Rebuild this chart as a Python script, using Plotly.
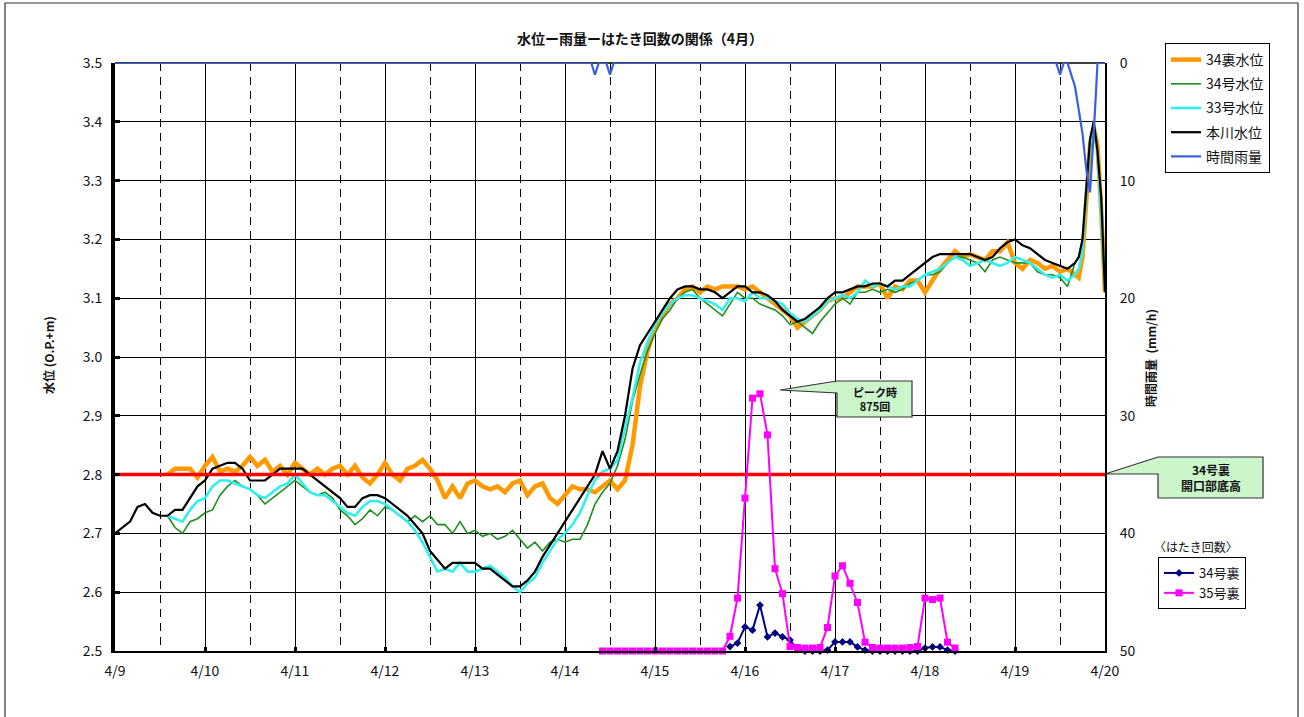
import numpy as np
import plotly.graph_objects as go

# ---- time base: hours counted from 4/9 00:00 ----
day_labels = ["4/9", "4/10", "4/11", "4/12", "4/13", "4/14",
              "4/15", "4/16", "4/17", "4/18", "4/19", "4/20"]

# water levels are 2-hourly, hourly over the last day
t_honkawa = np.r_[np.arange(0, 256, 2), np.arange(256, 265, 1)]
t_gauge = np.r_[np.arange(14, 256, 2), np.arange(256, 265, 1)]

# 本川水位 (O.P.+m)
honkawa = [
    2.70, 2.71, 2.72, 2.745, 2.75, 2.735, 2.73, 2.73, 2.74, 2.74,
    2.76, 2.78, 2.79, 2.81, 2.815, 2.82, 2.82, 2.81, 2.79, 2.79,
    2.79, 2.80, 2.81, 2.81, 2.81, 2.81, 2.80, 2.79, 2.78, 2.77,
    2.76, 2.745, 2.745, 2.76, 2.765, 2.765, 2.76, 2.75, 2.74, 2.73,
    2.715, 2.70, 2.67, 2.655, 2.64, 2.65, 2.65, 2.65, 2.65, 2.64,
    2.64, 2.63, 2.62, 2.61, 2.61, 2.62, 2.635, 2.66, 2.68, 2.70,
    2.72, 2.74, 2.76, 2.78, 2.80, 2.84, 2.81, 2.84, 2.90, 2.98,
    3.02, 3.04, 3.06, 3.08, 3.10, 3.115, 3.12, 3.12, 3.115, 3.115,
    3.11, 3.10, 3.11, 3.12, 3.12, 3.11, 3.11, 3.105, 3.095, 3.08,
    3.07, 3.06, 3.065, 3.075, 3.085, 3.10, 3.11, 3.11, 3.115, 3.12,
    3.12, 3.125, 3.125, 3.12, 3.13, 3.13, 3.14, 3.15, 3.16, 3.17,
    3.175, 3.175, 3.175, 3.175, 3.175, 3.17, 3.165, 3.17, 3.185, 3.195,
    3.20, 3.19, 3.185, 3.175, 3.165, 3.16, 3.155, 3.15,
    3.16, 3.17, 3.20, 3.29, 3.37, 3.40, 3.35, 3.27, 3.11,
]

# 34裏水位
ura34 = [
    2.80, 2.81, 2.81, 2.81, 2.795, 2.815, 2.83, 2.805, 2.81, 2.805,
    2.815, 2.83, 2.815, 2.825, 2.805, 2.815, 2.80, 2.82, 2.81, 2.80,
    2.81, 2.80, 2.81, 2.815, 2.80, 2.815, 2.795, 2.785, 2.80, 2.82,
    2.80, 2.79, 2.81, 2.815, 2.825, 2.81, 2.79, 2.76, 2.78, 2.76,
    2.785, 2.79, 2.78, 2.775, 2.78, 2.77, 2.785, 2.79, 2.765, 2.78,
    2.785, 2.76, 2.75, 2.765, 2.78, 2.775, 2.775, 2.77, 2.78, 2.79,
    2.775, 2.79, 2.85, 2.95, 3.01, 3.05, 3.07, 3.09, 3.10, 3.115,
    3.12, 3.11, 3.12, 3.115, 3.12, 3.12, 3.12, 3.115, 3.12, 3.11,
    3.10, 3.09, 3.08, 3.07, 3.05, 3.06, 3.07, 3.08, 3.095, 3.10,
    3.10, 3.11, 3.12, 3.12, 3.12, 3.125, 3.10, 3.12, 3.115, 3.13,
    3.13, 3.11, 3.13, 3.15, 3.165, 3.18, 3.17, 3.175, 3.17, 3.165,
    3.18, 3.18, 3.195, 3.16, 3.15, 3.165, 3.16, 3.15, 3.155, 3.145,
    3.15,
    3.14, 3.135, 3.17, 3.28, 3.36, 3.39, 3.36, 3.25, 3.11,
]

# 34号水位
go34 = [
    2.73, 2.71, 2.70, 2.72, 2.725, 2.735, 2.74, 2.765, 2.78, 2.79,
    2.78, 2.775, 2.765, 2.75, 2.76, 2.77, 2.78, 2.79, 2.78, 2.77,
    2.765, 2.77, 2.76, 2.74, 2.73, 2.715, 2.725, 2.74, 2.73, 2.745,
    2.74, 2.73, 2.72, 2.73, 2.72, 2.73, 2.715, 2.715, 2.70, 2.72,
    2.70, 2.705, 2.695, 2.70, 2.69, 2.695, 2.705, 2.69, 2.675, 2.685,
    2.67, 2.685, 2.69, 2.685, 2.69, 2.69, 2.715, 2.75, 2.77, 2.785,
    2.815, 2.86, 2.925, 2.97, 3.01, 3.04, 3.065, 3.08, 3.10, 3.11,
    3.115, 3.10, 3.09, 3.08, 3.07, 3.09, 3.11, 3.10, 3.10, 3.09,
    3.085, 3.08, 3.07, 3.055, 3.06, 3.05, 3.04, 3.06, 3.075, 3.09,
    3.10, 3.09, 3.11, 3.11, 3.115, 3.11, 3.115, 3.11, 3.115, 3.125,
    3.13, 3.14, 3.14, 3.145, 3.16, 3.17, 3.17, 3.165, 3.16, 3.145,
    3.165, 3.17, 3.165, 3.16, 3.16, 3.16, 3.145, 3.14, 3.14, 3.135,
    3.12,
    3.16, 3.17, 3.20, 3.27, 3.35, 3.40, 3.35, 3.24, 3.12,
]

# 33号水位
go33 = [
    2.73, 2.725, 2.72, 2.74, 2.755, 2.76, 2.78, 2.79, 2.79, 2.785,
    2.78, 2.775, 2.765, 2.76, 2.77, 2.78, 2.785, 2.80, 2.785, 2.77,
    2.765, 2.765, 2.755, 2.745, 2.735, 2.73, 2.745, 2.755, 2.755, 2.75,
    2.74, 2.73, 2.72, 2.705, 2.685, 2.66, 2.635, 2.64, 2.635, 2.65,
    2.635, 2.635, 2.64, 2.645, 2.635, 2.625, 2.61, 2.60, 2.615, 2.625,
    2.65, 2.67, 2.69, 2.70, 2.715, 2.735, 2.765, 2.79, 2.805, 2.81,
    2.825, 2.88, 2.93, 2.99, 3.025, 3.055, 3.075, 3.09, 3.10, 3.105,
    3.105, 3.10, 3.095, 3.09, 3.08, 3.10, 3.10, 3.095, 3.11, 3.10,
    3.10, 3.095, 3.09, 3.075, 3.065, 3.06, 3.07, 3.08, 3.095, 3.10,
    3.105, 3.10, 3.11, 3.13, 3.12, 3.125, 3.12, 3.115, 3.12, 3.12,
    3.13, 3.14, 3.145, 3.15, 3.16, 3.17, 3.165, 3.155, 3.16, 3.165,
    3.16, 3.155, 3.16, 3.17, 3.165, 3.16, 3.15, 3.14, 3.135, 3.14,
    3.13,
    3.14, 3.15, 3.18, 3.28, 3.36, 3.39, 3.35, 3.24, 3.12,
]

# 時間雨量 (mm/h)
rain_hours = [0, 127, 128, 129, 131, 132, 133, 251, 252, 253,
              254, 255, 256, 257, 258, 259, 260, 261, 262, 264]
rain_mm = [0, 0, 1, 0, 0, 1, 0, 0, 1, 0,
           0, 1, 2, 4, 6, 9, 11, 6, 0, 0]

# はたき回数 (count per 2 h)
t_flap35 = np.arange(130, 225, 2)
flap35 = [
    0, 0, 0, 0, 0, 0, 0, 0, 0, 0, 0, 0, 0, 0, 0, 0, 0,
    50, 180, 520, 860, 875, 735, 280, 195, 15, 12, 10, 10, 12,
    80, 255, 290, 230, 165, 30, 12, 10, 10, 10, 10, 12, 15,
    180, 175, 180, 30, 10,
]
t_flap34 = np.arange(164, 225, 2)
flap34 = [
    15, 27, 82, 71, 156, 48, 61, 48, 37, 5, 0, 0, 0,
    3, 31, 31, 31, 14, 3, 0, 0, 0, 0, 0, 0, 0,
    10, 14, 14, 3, 0,
]

# 34号裏 開口部底高
sill_level = 2.80

JP = "Noto Sans CJK JP"

# plot area in pixels
L, R, T, B = 115, 1105, 63, 651
W, H = R - L, B - T


def pp(px, py):
    """pixel position -> paper coordinates"""
    return (px - L) / W, (B - py) / H


def poly(points):
    parts = []
    for i, (px, py) in enumerate(points):
        x, y = pp(px, py)
        parts.append(("M" if i == 0 else "L") + f"{x:.5f},{y:.5f}")
    return " ".join(parts) + " Z"


def label(text, px, py, size=12, bold=True, angle=0):
    x, y = pp(px, py)
    return dict(text=text, x=x, y=y, xref="paper", yref="paper",
                xanchor="center", yanchor="middle", showarrow=False,
                textangle=angle,
                font=dict(family=JP, size=size, color="#111111",
                          weight="bold" if bold else "normal"))


fig = go.Figure()

level_series = [
    ("34裏水位", t_gauge, ura34, "#ff9900", 4.5),
    ("34号水位", t_gauge, go34, "#1f8f1f", 1.6),
    ("33号水位", t_gauge, go33, "#33eeee", 2.6),
    ("本川水位", t_honkawa, honkawa, "#000000", 2.2),
]
for name, t, v, col, w in level_series:
    fig.add_trace(go.Scatter(
        x=t, y=v, name=name, mode="lines",
        line=dict(color=col, width=w),
        legend="legend", legendgroup=name,
    ))

fig.add_trace(go.Scatter(
    x=[0, 264], y=[sill_level, sill_level], mode="lines",
    line=dict(color="#ff0000", width=3.5), showlegend=False,
    hoverinfo="skip",
))

fig.add_trace(go.Scatter(
    x=rain_hours, y=rain_mm, name="時間雨量", mode="lines",
    line=dict(color="#3a5fe0", width=2.2), yaxis="y2",
    legend="legend", legendgroup="rain", cliponaxis=False,
))

fig.add_trace(go.Scatter(
    x=t_flap34, y=flap34, name="34号裏", mode="lines+markers",
    line=dict(color="#000080", width=2),
    marker=dict(symbol="diamond", size=6, color="#000080"),
    yaxis="y3", legend="legend2", cliponaxis=False,
))
fig.add_trace(go.Scatter(
    x=t_flap35, y=flap35, name="35号裏", mode="lines+markers",
    line=dict(color="#ff00ff", width=2),
    marker=dict(symbol="square", size=7, color="#ff00ff"),
    yaxis="y3", legend="legend2", cliponaxis=False,
))

day_ticks = [24 * i for i in range(len(day_labels))]
noon_ticks = [24 * i + 12 for i in range(len(day_labels) - 1)]
level_ticks = [2.5, 2.6, 2.7, 2.8, 2.9, 3.0, 3.1, 3.2, 3.3, 3.4, 3.5]

shapes = [
    # page frame
    dict(type="rect", xref="paper", yref="paper",
         x0=pp(5, 0)[0], x1=pp(1298, 0)[0], y0=pp(0, 760)[1], y1=pp(0, 3)[1],
         line=dict(color="#333333", width=1.2), layer="below"),
    # top edge of the plot frame, kept under the rainfall line
    dict(type="line", xref="paper", yref="paper", x0=0, x1=1, y0=1, y1=1,
         line=dict(color="#000000", width=1.5), layer="below"),
    # peak balloon
    dict(type="path", xref="paper", yref="paper",
         path=poly([(780, 390), (837, 381), (912, 381), (912, 417),
                    (837, 417), (837, 393)]),
         fillcolor="#ccf5cc", line=dict(color="#333333", width=1.2),
         layer="above"),
    # sill balloon
    dict(type="path", xref="paper", yref="paper",
         path=poly([(1105, 474), (1158, 457), (1263, 457), (1263, 498),
                    (1158, 498), (1158, 474)]),
         fillcolor="#ccf5cc", line=dict(color="#333333", width=1.2),
         layer="above"),
]

annotations = [
    label("水位ー雨量ーはたき回数の関係（4月）", 640, 38, size=14),
    label("水位 (O.P.+m)", 48, 355, size=12, angle=-90),
    label("時間雨量  (mm/h)", 1150, 358, size=12, angle=-90),
    label("ピーク時<br>875回", 874.5, 399, size=11),
    label("34号裏<br>開口部底高", 1210.5, 477.5, size=12),
    label("〈はたき回数〉", 1196, 546, size=12, bold=False),
]

fig.update_layout(
    width=1304, height=717,
    margin=dict(l=L, r=1304 - R, t=T, b=717 - B),
    paper_bgcolor="white", plot_bgcolor="white",
    font=dict(family=JP, size=13, color="#111111"),
    showlegend=True,
    xaxis=dict(
        range=[0, 264], tickmode="array", tickvals=day_ticks, ticktext=day_labels,
        showgrid=True, gridcolor="#000000", gridwidth=1,
        minor=dict(tickmode="array", tickvals=noon_ticks, showgrid=True,
                   gridcolor="#000000", gridwidth=1, griddash="8px,6px",
                   ticklen=0),
        showline=True, linecolor="#000000", linewidth=2, mirror=False,
        ticks="inside", ticklen=4, tickwidth=3, tickcolor="#000000",
        ticklabelstandoff=6, zeroline=False,
        tickfont=dict(size=14),
    ),
    yaxis=dict(
        range=[2.5, 3.5], tickmode="array", tickvals=level_ticks,
        ticktext=[f"{v:.1f}" for v in level_ticks],
        showgrid=True, gridcolor="#000000", gridwidth=1,
        showline=True, linecolor="#000000", linewidth=4,
        ticks="inside", ticklen=5, tickwidth=3, tickcolor="#000000",
        zeroline=False, tickfont=dict(size=14), ticklabelstandoff=6,
    ),
    yaxis2=dict(
        range=[50, 0], overlaying="y", side="right", dtick=10,
        showgrid=False, zeroline=False,
        showline=True, linecolor="#000000", linewidth=2,
        ticks="", tickfont=dict(size=14), ticklabelstandoff=10,
    ),
    yaxis3=dict(
        range=[0, 2000], overlaying="y", visible=False,
    ),
    legend=dict(
        x=pp(1165, 0)[0], y=pp(0, 43)[1], xanchor="left", yanchor="top",
        bordercolor="#000000", borderwidth=1, bgcolor="white",
        font=dict(family=JP, size=14), tracegroupgap=3,
        traceorder="grouped",
    ),
    legend2=dict(
        x=pp(1158, 0)[0], y=pp(0, 557)[1], xanchor="left", yanchor="top",
        bordercolor="#000000", borderwidth=1, bgcolor="white",
        font=dict(family=JP, size=13), tracegroupgap=0,
    ),
    shapes=shapes,
    annotations=annotations,
)

fig.write_html("out.html")
